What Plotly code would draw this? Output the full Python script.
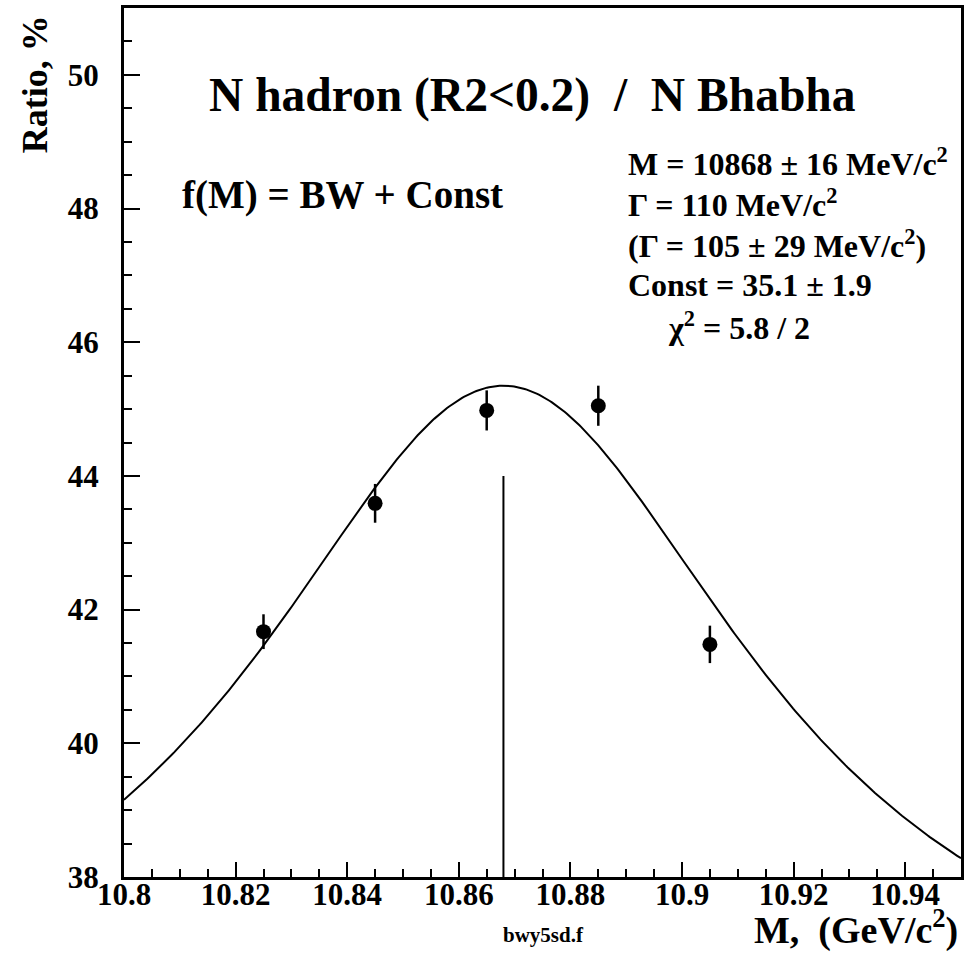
import numpy as np
import plotly.graph_objects as go

# Measured ratio N hadron / N Bhabha at each energy point
energy = [10.825, 10.845, 10.865, 10.885, 10.905]
ratio = [41.67, 43.59, 44.98, 45.05, 41.48]
ratio_err = [0.26, 0.29, 0.30, 0.30, 0.28]

# Fit parameters: Breit-Wigner plus constant
M0 = 10.868      # GeV/c^2
GAMMA = 0.110    # GeV/c^2
CONST = 35.1     # %
AMP = 10.25      # peak height above the constant
MARK_TOP = 44.0  # top of the vertical marker at M0

x_ticks = [10.8, 10.82, 10.84, 10.86, 10.88, 10.9, 10.92, 10.94]
x_ticktext = ["10.8", "10.82", "10.84", "10.86", "10.88", "10.9", "10.92", "10.94"]
y_ticks = [38, 40, 42, 44, 46, 48, 50]

fit_lines = [
    "M = 10868 \u00b1 16 MeV/c<sup>2</sup>",
    "\u0393 = 110 MeV/c<sup>2</sup>",
    "(\u0393 = 105 \u00b1 29 MeV/c<sup>2</sup>)",
    "Const = 35.1 \u00b1 1.9",
]
chi2_line = "\u03c7<sup>2</sup> = 5.8 / 2"

FONT = "Liberation Serif"
W, H = 969, 954
L, R, T, B = 124, 5, 8, 77


def px(xp):
    return (xp - L) / (W - L - R)


def py(yp):
    return (H - B - yp) / (H - B - T)


xs = np.linspace(10.8, 10.95, 400)
half = GAMMA / 2
fit = CONST + AMP * half**2 / ((xs - M0) ** 2 + half**2)

fig = go.Figure()
fig.add_trace(go.Scatter(x=xs, y=fit, mode="lines",
                         line=dict(color="black", width=2), hoverinfo="skip"))
fig.add_trace(go.Scatter(x=[M0, M0], y=[38, MARK_TOP], mode="lines",
                         line=dict(color="black", width=2), hoverinfo="skip"))
fig.add_trace(go.Scatter(
    x=energy, y=ratio, mode="markers",
    marker=dict(color="black", size=15),
    error_y=dict(type="data", array=ratio_err, color="black", thickness=2.5, width=0),
))

axis_common = dict(
    showline=True, linecolor="black", linewidth=3, mirror=True,
    ticks="inside", tickcolor="black", tickwidth=2,
    showgrid=False, zeroline=False,
    tickfont=dict(family=FONT, size=31, color="black", weight="bold"),
)

fig.update_xaxes(
    range=[10.8, 10.95], tickvals=x_ticks, ticktext=x_ticktext, ticklen=15,
    minor=dict(dtick=0.005, tick0=10.8, ticks="inside", ticklen=8,
               tickcolor="black", tickwidth=2, showgrid=False),
    ticklabelstandoff=-12,
    **axis_common,
)
fig.update_yaxes(
    range=[38, 51], tickvals=y_ticks, ticklen=16,
    minor=dict(dtick=0.5, tick0=38, ticks="inside", ticklen=8,
               tickcolor="black", tickwidth=2, showgrid=False),
    ticklabelstandoff=16,
    **axis_common,
)

annotations = [
    dict(text="N hadron (R2&lt;0.2)\u00a0\u00a0/\u00a0\u00a0N Bhabha", x=px(534), y=py(95),
         xanchor="center", yanchor="middle", font=dict(size=47.5)),
    dict(text="f(M) = BW + Const", x=px(180), y=py(195),
         xanchor="left", yanchor="middle", font=dict(size=39)),
    dict(text="Ratio, %", x=px(35), y=py(84), textangle=-90,
         xanchor="center", yanchor="middle", font=dict(size=36)),
    dict(text="M,\u00a0\u00a0(GeV/c<sup>2</sup>)", x=px(963), y=py(927),
         xanchor="right", yanchor="middle", font=dict(size=38)),
    dict(text="bwy5sd.f", x=px(545), y=py(935),
         xanchor="center", yanchor="middle", font=dict(size=21)),
]
for i, line in enumerate(fit_lines):
    annotations.append(dict(text=line, x=px(628), y=py(162 + 41 * i),
                            xanchor="left", yanchor="middle", font=dict(size=32)))
annotations.append(dict(text=chi2_line, x=px(668), y=py(326),
                        xanchor="left", yanchor="middle", font=dict(size=32)))

for a in annotations:
    a.update(xref="paper", yref="paper", showarrow=False)
    a["font"].update(family=FONT, color="black", weight="bold")

fig.update_layout(
    width=W, height=H,
    margin=dict(l=L, r=R, t=T, b=B),
    paper_bgcolor="white", plot_bgcolor="white",
    showlegend=False,
    font=dict(family=FONT, color="black", weight="bold"),
    annotations=annotations,
)

fig.write_html("out.html")
